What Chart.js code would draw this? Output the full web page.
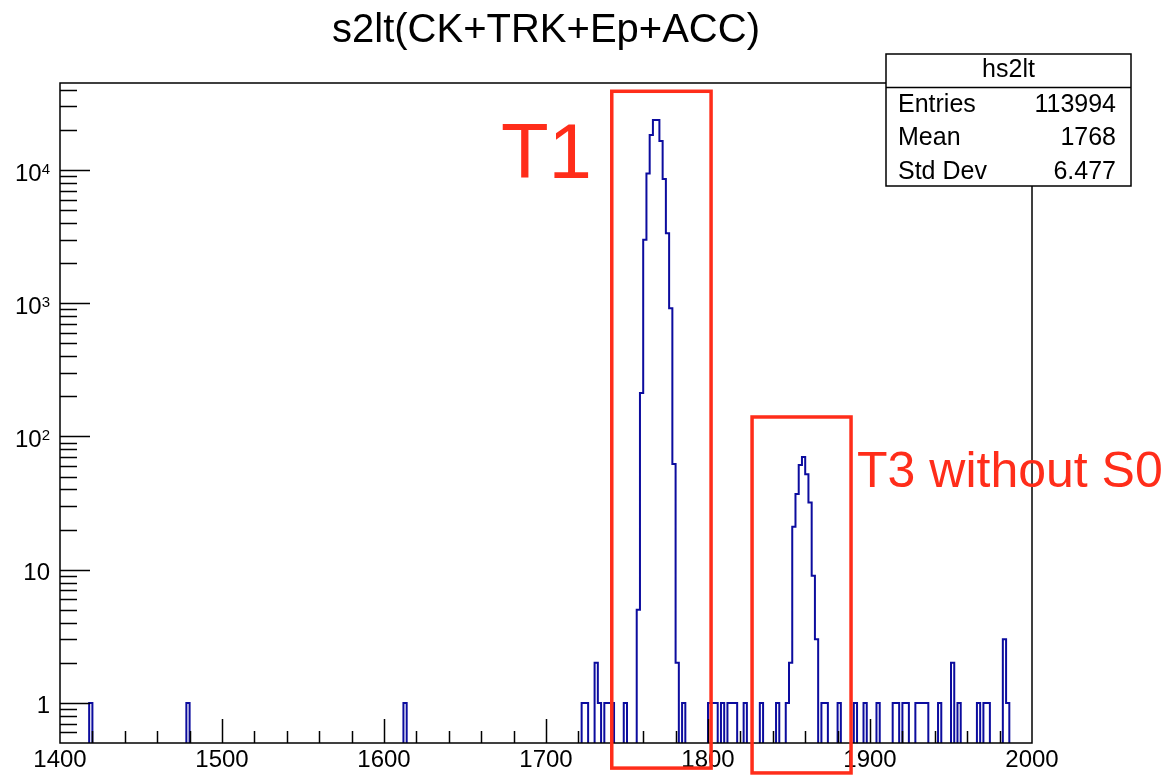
<!DOCTYPE html>
<html>
<head>
<meta charset="utf-8">
<title>s2lt(CK+TRK+Ep+ACC)</title>
<script src="https://cdn.jsdelivr.net/npm/chart.js@4.4.1/dist/chart.umd.min.js"></script>
<style>
  html, body { margin: 0; padding: 0; background: #fff; }
  canvas { display: block; }
</style>
</head>
<body>
<canvas id="hist" width="1169" height="775"></canvas>
<script>
// hs2lt: 300 bins of width 2 between 1400 and 2000, log y axis
const xMin = 1400;
const xMax = 2000;
const binWidth = 2;
const yMin = 0.5;
const yMax = 45000;

// lower edges of the non-empty bins
const filledBins = [
  1418, 1478, 1612,
  1722, 1724, 1730, 1732, 1736, 1738, 1740, 1748,
  1756, 1758, 1760, 1762, 1764, 1766, 1768, 1770, 1772, 1774, 1776, 1778, 1780,
  1784,
  1800, 1802, 1804, 1808, 1812, 1814, 1816, 1822, 1832, 1842,
  1848, 1850, 1852, 1854, 1856, 1858, 1860, 1862, 1864, 1866,
  1870, 1872, 1880, 1890, 1896, 1904,
  1914, 1916, 1920, 1922, 1928, 1930, 1932, 1934, 1942, 1950, 1954,
  1966, 1970, 1972, 1982, 1984,
];
const binCounts = [
  1, 1, 1,
  1, 1, 2, 1, 1, 1, 1, 1,
  5, 212, 2990, 9420, 18340, 23760, 23760, 16530, 8560, 3356, 919, 62, 2,
  1,
  1, 1, 1, 1, 1, 1, 1, 1, 1, 1,
  1, 2, 21, 37, 61, 70, 52, 32, 9, 3,
  1, 1, 1, 1, 1, 1,
  1, 1, 1, 1, 1, 1, 1, 1, 1, 2, 1,
  1, 1, 1, 3, 1,
];

// y labels: mantissa text and exponent (empty for 1 and 10)
const yTickValues = [1, 10, 100, 1000, 10000];
const yTickBase = ["1", "10", "10", "10", "10"];
const yTickExp = ["", "", "2", "3", "4"];

const statsTitle = "hs2lt";
const statsNames = ["Entries", "Mean", "Std Dev"];
const statsValues = ["113994", "1768", "6.477"];

// red marker boxes drawn on top, given in axis units
const markers = [
  { text: "T1", x0: 1740.6, x1: 1801.9, yTop: 39000, yBottom: 0.324, textX: 1672.2, textY: 8730, size: 78 },
  { text: "T3 without S0", x0: 1827.2, x1: 1888.3, yTop: 140, yBottom: 0.298, textX: 1892, textY: 42, size: 50 },
];

const FONT = "'Liberation Sans', Arial, Helvetica, sans-serif";
const LINE_BLUE = "#0c0c9e";
const MARK_RED = "#ff2d1a";
const EMPTY = 0.01; // empty bins fall below the axis floor and are clipped

const counts = new Array(Math.round((xMax - xMin) / binWidth)).fill(0);
filledBins.forEach((edge, i) => {
  counts[Math.round((edge - xMin) / binWidth)] = binCounts[i];
});
const points = counts.map((c, i) => ({ x: xMin + i * binWidth, y: c > 0 ? c : EMPTY }));
points.push({ x: xMax, y: points[points.length - 1].y });

const background = {
  id: "background",
  beforeDraw(chart) {
    const ctx = chart.ctx;
    ctx.save();
    ctx.fillStyle = "#fff";
    ctx.fillRect(0, 0, chart.width, chart.height);
    ctx.restore();
  },
};

// ROOT style frame with ticks pointing into the pad, and 10^n labels
const frameAndTicks = {
  id: "frameAndTicks",
  afterDatasetsDraw(chart) {
    const { ctx, chartArea: a, scales } = chart;
    ctx.save();
    ctx.strokeStyle = "#000";
    ctx.lineWidth = 1.5;
    ctx.strokeRect(a.left, a.top, a.right - a.left, a.bottom - a.top);

    ctx.beginPath();
    for (let d = -1; d <= 4; d++) {
      for (let m = 1; m <= 9; m++) {
        const v = m * Math.pow(10, d);
        if (v <= yMin || v >= yMax) continue;
        const y = Math.round(scales.y.getPixelForValue(v)) + 0.5;
        ctx.moveTo(a.left, y);
        ctx.lineTo(a.left + (m === 1 ? 30 : 17), y);
      }
    }
    for (let v = xMin + 20; v < xMax; v += 20) {
      const x = Math.round(scales.x.getPixelForValue(v)) + 0.5;
      ctx.moveTo(x, a.bottom);
      ctx.lineTo(x, a.bottom - (v % 100 === 0 ? 24 : 12));
    }
    ctx.stroke();

    ctx.fillStyle = "#000";
    ctx.textAlign = "right";
    ctx.textBaseline = "alphabetic";
    const right = a.left - 10;
    yTickValues.forEach((v, i) => {
      const y = scales.y.getPixelForValue(v);
      let x = right;
      if (yTickExp[i]) {
        ctx.font = `15px ${FONT}`;
        ctx.fillText(yTickExp[i], x, y + 3.5);
        x -= ctx.measureText(yTickExp[i]).width;
      }
      ctx.font = `24px ${FONT}`;
      ctx.fillText(yTickBase[i], x, y + 10.5);
    });
    ctx.restore();
  },
};

const statsBox = {
  id: "statsBox",
  afterDraw(chart) {
    const ctx = chart.ctx;
    const left = 886, top = 54, width = 245, height = 132;
    ctx.save();
    ctx.fillStyle = "#fff";
    ctx.fillRect(left, top, width, height);
    ctx.strokeStyle = "#000";
    ctx.lineWidth = 1.5;
    ctx.strokeRect(left, top, width, height);
    ctx.beginPath();
    ctx.moveTo(left, top + 33.5);
    ctx.lineTo(left + width, top + 33.5);
    ctx.stroke();

    ctx.fillStyle = "#000";
    ctx.font = `25px ${FONT}`;
    ctx.textBaseline = "middle";
    ctx.textAlign = "center";
    ctx.fillText(statsTitle, left + width / 2, top + 16);
    statsNames.forEach((name, i) => {
      const y = top + 51 + i * 33.5;
      ctx.textAlign = "left";
      ctx.fillText(name, left + 12, y);
      ctx.textAlign = "right";
      ctx.fillText(statsValues[i], left + width - 15, y);
    });
    ctx.restore();
  },
};

const markerBoxes = {
  id: "markerBoxes",
  afterDraw(chart) {
    const { ctx, scales } = chart;
    ctx.save();
    ctx.strokeStyle = MARK_RED;
    ctx.fillStyle = MARK_RED;
    ctx.lineWidth = 3.5;
    ctx.textAlign = "left";
    ctx.textBaseline = "alphabetic";
    markers.forEach((m) => {
      const x0 = scales.x.getPixelForValue(m.x0);
      const x1 = scales.x.getPixelForValue(m.x1);
      const y0 = scales.y.getPixelForValue(m.yTop);
      const y1 = scales.y.getPixelForValue(m.yBottom);
      ctx.strokeRect(x0, y0, x1 - x0, y1 - y0);
      ctx.font = `${m.size}px ${FONT}`;
      ctx.fillText(m.text, scales.x.getPixelForValue(m.textX), scales.y.getPixelForValue(m.textY));
    });
    ctx.restore();
  },
};

new Chart(document.getElementById("hist"), {
  type: "line",
  data: {
    datasets: [
      {
        label: "hs2lt",
        data: points,
        stepped: true,
        borderColor: LINE_BLUE,
        borderWidth: 2,
        borderJoinStyle: "miter",
        pointRadius: 0,
        fill: false,
        tension: 0,
      },
    ],
  },
  options: {
    responsive: false,
    animation: false,
    devicePixelRatio: 1,
    layout: { padding: { left: 0, right: 137, top: 0, bottom: 0 } },
    plugins: {
      legend: { display: false },
      tooltip: { enabled: false },
      title: {
        display: true,
        text: "s2lt(CK+TRK+Ep+ACC)",
        fullSize: false,
        color: "#000",
        font: { family: FONT, size: 40, weight: "normal", lineHeight: 1.2 },
        padding: { top: 7, bottom: 28 },
      },
    },
    scales: {
      x: {
        type: "linear",
        min: xMin,
        max: xMax,
        grid: { display: false },
        border: { display: false },
        ticks: {
          stepSize: 100,
          color: "#000",
          padding: -5,
          maxRotation: 0,
          font: { family: FONT, size: 24 },
          callback: (v) => String(v),
        },
        afterFit: (s) => { s.height = 32; },
      },
      y: {
        type: "logarithmic",
        min: yMin,
        max: yMax,
        grid: { display: false },
        border: { display: false },
        ticks: { display: false },
        afterFit: (s) => { s.width = 60; },
      },
    },
  },
  plugins: [background, frameAndTicks, statsBox, markerBoxes],
});
</script>
</body>
</html>
